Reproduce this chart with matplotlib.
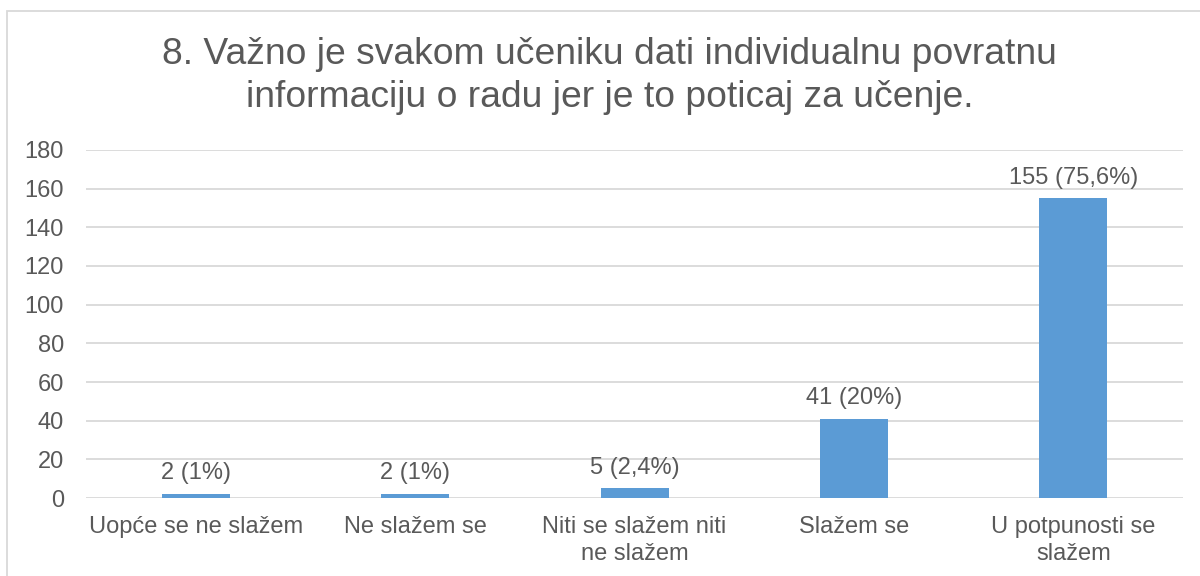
import matplotlib.pyplot as plt
from matplotlib.patches import Rectangle

# Survey answers for question 8
categories = ["Uopće se ne slažem", "Ne slažem se", "Niti se slažem niti\nne slažem",
              "Slažem se", "U potpunosti se\nslažem"]
counts = [2, 2, 5, 41, 155]
percents = ["1%", "1%", "2,4%", "20%", "75,6%"]
yticks = [0, 20, 40, 60, 80, 100, 120, 140, 160, 180]

title = "8. Važno je svakom učeniku dati individualnu povratnu\ninformaciju o radu jer je to poticaj za učenje."

textColor = "#595959"
barColor = "#5B9BD5"
gridColor = "#D9D9D9"

plt.rcParams["font.family"] = ["Liberation Sans", "DejaVu Sans"]

fig = plt.figure(figsize=(12, 5.76), dpi=100)
ax = fig.add_axes([0.0717, 0.1354, 0.9142, 0.6042])

# Light frame around the whole chart, cut off at the right and bottom
fig.patches.append(Rectangle((7 / 1200, -0.1), 1.2, 1.1 - 11 / 576, transform=fig.transFigure,
                             fill=False, edgecolor=gridColor, linewidth=1.3))

x = range(len(categories))
ax.bar(x, counts, width=0.31, color=barColor, zorder=3)

# Data labels above bars
for i, (c, p) in enumerate(zip(counts, percents)):
    ax.annotate(f"{c} ({p})", (i, c), xytext=(0, 7), textcoords="offset points",
                ha="center", va="bottom", fontsize=17, color=textColor)

ax.set_xlim(-0.5, len(categories) - 0.5)
ax.set_ylim(0, 180)
ax.set_yticks(yticks)
ax.set_xticks(list(x))
ax.set_xticklabels(categories, fontsize=17, color=textColor, linespacing=1.3)
ax.tick_params(axis="y", labelsize=17, labelcolor=textColor, length=0, pad=16)
ax.tick_params(axis="x", length=0, pad=13)
ax.grid(axis="y", color=gridColor, linewidth=1.3, zorder=0)
for s in ax.spines.values():
    s.set_visible(False)

fig.text(0.508, 0.868, title, ha="center", va="center", fontsize=26.8, color=textColor,
         linespacing=1.3)

plt.savefig("out.png", dpi=100)
